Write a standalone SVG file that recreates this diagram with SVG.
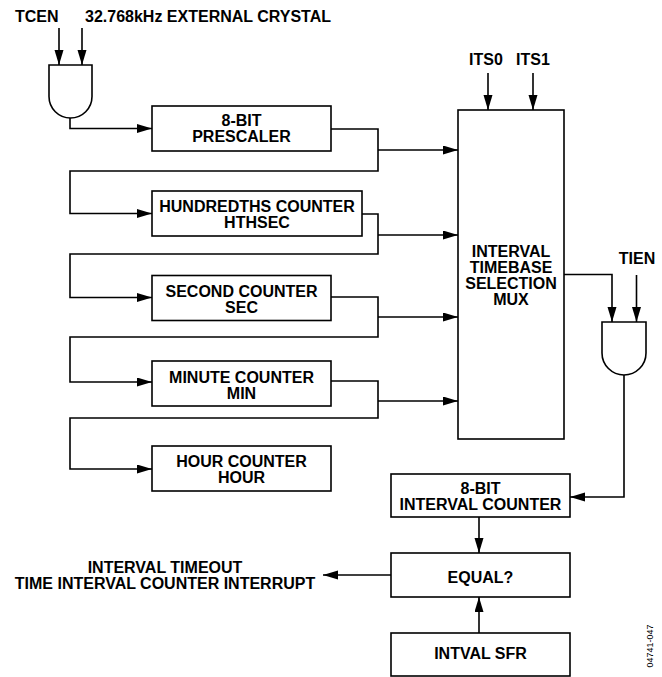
<svg xmlns="http://www.w3.org/2000/svg" width="662" height="677" viewBox="0 0 662 677">
<style>
.box{fill:#fff;stroke:#000;stroke-width:1.6}
.gate{fill:#fff;stroke:#000;stroke-width:1.6}
.t{font-family:"Liberation Sans",Arial,sans-serif;font-weight:bold;font-size:16px;fill:#000;text-anchor:middle}
.ts{font-family:"Liberation Sans",Arial,sans-serif;font-weight:bold;font-size:16px;fill:#000}
.c{fill:none;stroke:#000;stroke-width:1.6}
.id{font-family:"Liberation Sans",Arial,sans-serif;font-size:9px;fill:#000;text-anchor:middle}
</style>
<defs>
<marker id="ah" markerUnits="userSpaceOnUse" markerWidth="16" markerHeight="10" refX="15" refY="4.5" orient="auto">
<path d="M0,0 L15,4.5 L0,9 z" fill="#000"/>
</marker>
</defs>
<rect width="662" height="677" fill="#fff"/>
<g id="connectors">
<path class="c" d="M59,28 V65" marker-end="url(#ah)"/>
<path class="c" d="M82,28 V65" marker-end="url(#ah)"/>
<path class="c" d="M70,118 V128.5 H152" marker-end="url(#ah)"/>
<path class="c" d="M331,129 H378 V171 H70 V213.5 H152" marker-end="url(#ah)"/>
<path class="c" d="M378,150 H458" marker-end="url(#ah)"/>
<path class="c" d="M362,214 H378 V254 H70 V297.5 H152" marker-end="url(#ah)"/>
<path class="c" d="M378,235 H458" marker-end="url(#ah)"/>
<path class="c" d="M331,297 H378 V337 H70 V382 H152" marker-end="url(#ah)"/>
<path class="c" d="M378,317 H458" marker-end="url(#ah)"/>
<path class="c" d="M331,381 H378 V418 H70 V469 H152" marker-end="url(#ah)"/>
<path class="c" d="M378,401 H458" marker-end="url(#ah)"/>
<path class="c" d="M488,73 V110" marker-end="url(#ah)"/>
<path class="c" d="M533,73 V110" marker-end="url(#ah)"/>
<path class="c" d="M564,274.5 H612 V322" marker-end="url(#ah)"/>
<path class="c" d="M636.5,275 V322" marker-end="url(#ah)"/>
<path class="c" d="M624,375 V497 H570" marker-end="url(#ah)"/>
<path class="c" d="M479,517 V553" marker-end="url(#ah)"/>
<path class="c" d="M479,633 V597" marker-end="url(#ah)"/>
<path class="c" d="M391,575 H323" marker-end="url(#ah)"/>
</g>
<g id="labels">
<text class="ts" x="15" y="21.5">TCEN</text>
<text class="ts" x="85" y="21.5">32.768kHz EXTERNAL CRYSTAL</text>
<text class="t" x="486" y="65">ITS0</text>
<text class="t" x="533" y="65">ITS1</text>
<text class="t" x="637" y="264">TIEN</text>
<text class="t" x="165" y="573">INTERVAL TIMEOUT</text>
<text class="t" x="165" y="589">TIME INTERVAL COUNTER INTERRUPT</text>
<text class="id" transform="translate(653,646) rotate(-90)">04741-047</text>
</g>
<g id="gate1"><path class="gate" d="M49,65 H92 V96.5 A21.5,21.5 0 0 1 49,96.5 Z"/></g>
<g id="gate2"><path class="gate" d="M602,322 H646 V353 A22,22 0 0 1 602,353 Z"/></g>
<g id="prescaler"><rect class="box" x="152" y="106" width="179" height="45"/>
<text class="t" x="241.5" y="126">8-BIT</text><text class="t" x="241.5" y="142">PRESCALER</text></g>
<g id="hundredths"><rect class="box" x="152" y="191" width="210" height="45"/>
<text class="t" x="257" y="212">HUNDREDTHS COUNTER</text><text class="t" x="257" y="228">HTHSEC</text></g>
<g id="second"><rect class="box" x="152" y="275.5" width="179" height="45"/>
<text class="t" x="241.5" y="296.5">SECOND COUNTER</text><text class="t" x="241.5" y="312.5">SEC</text></g>
<g id="minute"><rect class="box" x="152" y="361" width="179" height="45"/>
<text class="t" x="241.5" y="383">MINUTE COUNTER</text><text class="t" x="241.5" y="399">MIN</text></g>
<g id="hour"><rect class="box" x="152" y="446" width="179" height="45"/>
<text class="t" x="241.5" y="467">HOUR COUNTER</text><text class="t" x="241.5" y="483">HOUR</text></g>
<g id="mux"><rect class="box" x="458" y="110" width="106" height="329"/>
<text class="t" x="511" y="256.5">INTERVAL</text><text class="t" x="511" y="272.5">TIMEBASE</text>
<text class="t" x="511" y="288.5">SELECTION</text><text class="t" x="511" y="304.5">MUX</text></g>
<g id="intervalcounter"><rect class="box" x="391" y="474" width="179" height="43"/>
<text class="t" x="480.5" y="493.5">8-BIT</text><text class="t" x="480.5" y="509.5">INTERVAL COUNTER</text></g>
<g id="equal"><rect class="box" x="391" y="553" width="179" height="44"/>
<text class="t" x="480.5" y="583">EQUAL?</text></g>
<g id="intval"><rect class="box" x="391" y="633" width="179" height="43"/>
<text class="t" x="480.5" y="659">INTVAL SFR</text></g>
</svg>
